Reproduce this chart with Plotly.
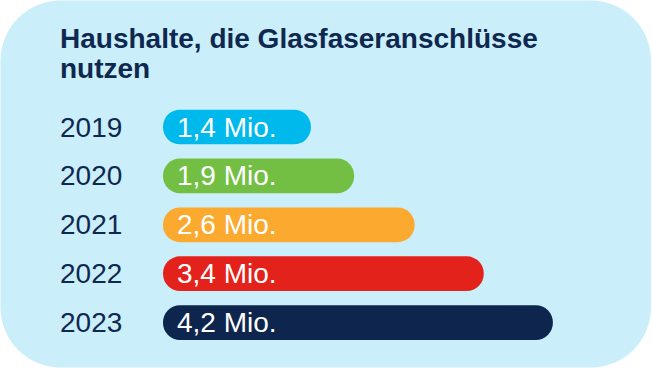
import plotly.graph_objects as go

# ---- data ----
years = ["2019", "2020", "2021", "2022", "2023"]
values = [1.4, 1.9, 2.6, 3.4, 4.2]
value_labels = ["1,4 Mio.", "1,9 Mio.", "2,6 Mio.", "3,4 Mio.", "4,2 Mio."]
bar_colors = ["#00B9EC", "#72BF44", "#FBA92F", "#E3221B", "#0E254E"]
title_lines = ["Haushalte, die Glasfaseranschlüsse", "nutzen"]

# ---- layout constants ----
W, H = 652, 370
BG = "#CBEFFA"
NAVY = "#0F2850"
BAR_BASE = -0.3125          # bars start a little left of zero (rounded caps)
PX_PER_UNIT = 86.4
ZERO_PX = 190.0
ROW0_PX = 127.0
ROW_STEP = 48.9

x_range = [-ZERO_PX / PX_PER_UNIT, (W - ZERO_PX) / PX_PER_UNIT]
y_range = [(H - ROW0_PX) / ROW_STEP, -ROW0_PX / ROW_STEP]

fig = go.Figure()
fig.add_trace(go.Bar(
    y=years,
    x=[v - BAR_BASE for v in values],
    base=BAR_BASE,
    orientation="h",
    width=0.71,
    marker=dict(color=bar_colors, cornerradius="50%", line=dict(width=0)),
    hoverinfo="skip",
))

# rounded background card (pixel coordinates -> paper)
def P(x, y):
    return f"{x / W:.5f},{1 - y / H:.5f}"

x0, y0, x1, y1, r = 0.5, 0.5, 651.0, 367.5, 60
k = 0.5523 * r
path = (
    f"M {P(x0 + r, y0)} L {P(x1 - r, y0)} "
    f"C {P(x1 - r + k, y0)} {P(x1, y0 + r - k)} {P(x1, y0 + r)} "
    f"L {P(x1, y1 - r)} "
    f"C {P(x1, y1 - r + k)} {P(x1 - r + k, y1)} {P(x1 - r, y1)} "
    f"L {P(x0 + r, y1)} "
    f"C {P(x0 + r - k, y1)} {P(x0, y1 - r + k)} {P(x0, y1 - r)} "
    f"L {P(x0, y0 + r)} "
    f"C {P(x0, y0 + r - k)} {P(x0 + r - k, y0)} {P(x0 + r, y0)} Z"
)
fig.add_shape(type="path", xref="paper", yref="paper", path=path,
              fillcolor=BG, line=dict(width=0), layer="below")

annotations = []
for line, cy in zip(title_lines, [38, 68]):
    annotations.append(dict(text=line, xref="paper", yref="paper", x=58 / W, y=1 - cy / H,
                            xanchor="left", yanchor="middle", align="left", showarrow=False,
                            font=dict(family="Liberation Sans", size=28, color=NAVY, weight="bold")))
for i, (yr, lab) in enumerate(zip(years, value_labels)):
    annotations.append(dict(text=yr, xref="paper", yref="y", x=58 / W, y=i,
                            xanchor="left", yanchor="middle", showarrow=False,
                            font=dict(family="Liberation Sans", size=28, color=NAVY)))
    annotations.append(dict(text=lab, xref="x", yref="y", x=BAR_BASE, y=i,
                            xanchor="left", yanchor="middle", xshift=12, showarrow=False,
                            font=dict(family="Liberation Sans", size=28, color="white")))

fig.update_layout(
    width=W, height=H,
    margin=dict(l=0, r=0, t=0, b=0),
    paper_bgcolor="white", plot_bgcolor="rgba(0,0,0,0)",
    showlegend=False,
    xaxis=dict(range=x_range, visible=False, fixedrange=True),
    yaxis=dict(range=y_range, type="category", visible=False, fixedrange=True),
    annotations=annotations,
)

fig.write_html(
    "out.html",
    config={"displayModeBar": False},
    post_script="document.body.style.margin='0';document.body.style.overflow='hidden';",
)
